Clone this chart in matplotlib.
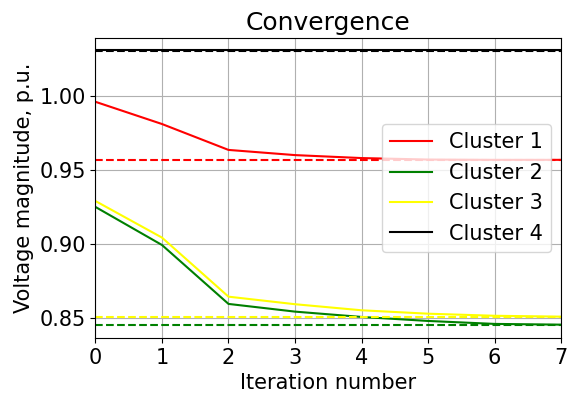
import matplotlib
matplotlib.use('Agg')
import matplotlib.pyplot as plt

# Iteraciones y tensiones por cluster
iteraciones = [0, 1, 2, 3, 4, 5, 6, 7]
cluster1 = [0.996, 0.981, 0.9635, 0.960, 0.958, 0.957, 0.9568, 0.9568]
cluster2 = [0.925, 0.8993, 0.8595, 0.8543, 0.8507, 0.848, 0.846, 0.8455]
cluster3 = [0.929, 0.9043, 0.8644, 0.8593, 0.8552, 0.8529, 0.8515, 0.8509]
cluster4 = [1.031, 1.031, 1.031, 1.031, 1.031, 1.031, 1.031, 1.031]

# Valores de referencia (lineas discontinuas)
referencias = [0.9568, 0.8455, 0.851, 1.0305]
colores = ['red', 'green', 'yellow', 'black']
nombres = ['Cluster 1', 'Cluster 2', 'Cluster 3', 'Cluster 4']

plt.rcParams['font.size'] = 15
fig, ax = plt.subplots(figsize=(5.68, 3.93), dpi=100)

for serie, ref, color, nombre in zip([cluster1, cluster2, cluster3, cluster4], referencias, colores, nombres):
    ax.plot(iteraciones, serie, color=color, label=nombre, lw=1.5)
    ax.axhline(ref, color=color, ls='--', lw=1.5)

ax.set_xlim(0, 7)
ax.set_ylim(0.8365, 1.039)
ax.set_yticks([0.85, 0.90, 0.95, 1.00])
ax.grid(True, color='#b0b0b0')
ax.set_title('Convergence', fontsize=18)
ax.set_xlabel('Iteration number', fontsize=15)
ax.set_ylabel('Voltage magnitude, p.u.', fontsize=15)
ax.legend(loc='center right', fontsize=15)

plt.subplots_adjust(left=0.168, right=0.988, top=0.903, bottom=0.14)
plt.savefig('out.png')
